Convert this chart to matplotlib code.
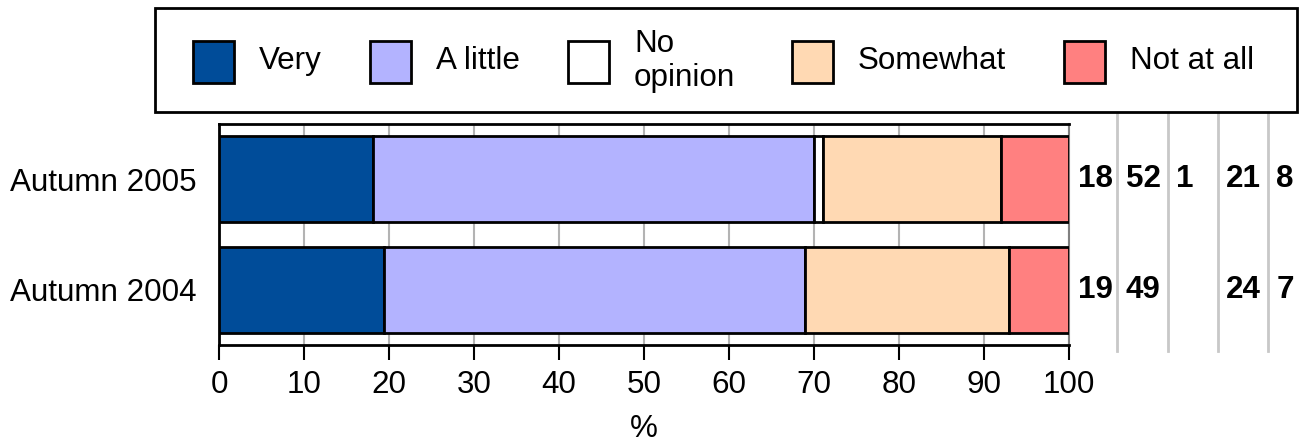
import matplotlib
matplotlib.use("Agg")
import matplotlib.pyplot as plt
from matplotlib.patches import Rectangle
from matplotlib.transforms import blended_transform_factory

plt.rcParams["font.family"] = ["Liberation Sans", "DejaVu Sans"]
plt.rcParams["font.size"] = 22.6

# data
periods = ["Autumn 2005", "Autumn 2004"]
answers = ["Very", "A little", "No\nopinion", "Somewhat", "Not at all"]
colors = ["#004c99", "#b3b3ff", "#ffffff", "#ffd9b3", "#ff8080"]
shares_2005 = [18.1, 51.9, 1.1, 20.9, 8.0]
shares_2004 = [19.4, 49.5, 0.0, 24.0, 7.1]
labels_2005 = ["18", "52", "1", "21", "8"]
labels_2004 = ["19", "49", "", "24", "7"]

shares = [shares_2005, shares_2004]
labels = [labels_2005, labels_2004]

W, H = 1306, 448
fig = plt.figure(figsize=(W / 100, H / 100), dpi=100)
ax = fig.add_axes([219 / W, 103 / H, 850 / W, 221 / H])

# stacked horizontal bars
for i, ans in enumerate(answers):
    lefts = [sum(row[:i]) for row in shares]
    widths = [row[i] for row in shares]
    ax.barh(range(len(periods)), widths, left=lefts, height=0.78,
            color=colors[i], edgecolor="black", linewidth=2, zorder=3)

ax.set_xlim(0, 100)
ax.set_ylim(1.5, -0.5)
ax.set_yticks(range(len(periods)))
ax.set_yticklabels(periods)
ax.set_xticks(range(0, 101, 10))
ax.tick_params(axis="y", length=0, pad=16)
ax.tick_params(axis="x", length=11, width=1.5, pad=7, direction="out")
ax.xaxis.grid(True, color="#b3b3b3", linewidth=1.5, zorder=0)
ax.set_axisbelow(True)
ax.set_xlabel("%", labelpad=10)
for side in ["left", "bottom", "top"]:
    ax.spines[side].set_linewidth(2)
ax.spines["right"].set_color("#808080")
ax.spines["right"].set_linewidth(1.5)

# value columns on the right
col_x = [100, 105.7, 111.6, 117.5, 123.4]
trans = blended_transform_factory(ax.transData, ax.transAxes)
for x in col_x[1:]:
    ax.plot([x, x], [-0.025, 1.065], color="#c8c8c8", linewidth=2,
            transform=trans, clip_on=False)
for r, row in enumerate(labels):
    for c, txt in enumerate(row):
        ax.text(col_x[c] + 1.0, r, txt, ha="left", va="center",
                fontweight="bold", clip_on=False)

# legend box, laid out like the original
fig.patches.append(Rectangle((155 / W, 1 - 112 / H), 1142 / W, 104 / H,
                             transform=fig.transFigure, facecolor="white",
                             edgecolor="black", linewidth=2))
leg_x = [193, 370, 568, 792, 1064]
for x, ans, col in zip(leg_x, answers, colors):
    fig.patches.append(Rectangle((x / W, 1 - 83 / H), 41 / W, 42 / H,
                                 transform=fig.transFigure, facecolor=col,
                                 edgecolor="black", linewidth=2))
    fig.text((x + 66) / W, 1 - 61 / H, ans, ha="left", va="center")

fig.savefig("out.png", dpi=100)
